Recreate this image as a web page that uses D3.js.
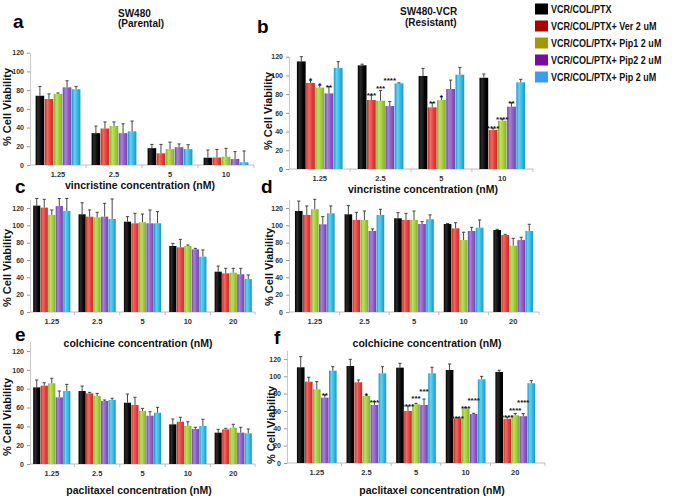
<!DOCTYPE html>
<html lang="en">
<head>
  <meta charset="UTF-8">
  <title>Cell viability panels</title>
  <script src="https://cdn.jsdelivr.net/npm/d3@7"></script>
  <style>
    html, body { margin: 0; padding: 0; background: #fff; }
    svg { display: block; font-family: Arial, 'Liberation Sans', sans-serif; }
  </style>
</head>
<body>
  <script>
    const series = [
      'VCR/COL/PTX',
      'VCR/COL/PTX+ Ver 2 uM',
      'VCR/COL/PTX+ Pip1 2 uM',
      'VCR/COL/PTX+ Pip2 2 uM',
      'VCR/COL/PTX+ Pip 2 uM'
    ];
    const vcrDoses = ['1.25', '2.5', '5', '10'];
    const colDoses = ['1.25', '2.5', '5', '10', '20'];
    const ptxDoses = ['1.25', '2.5', '5', '10', '20'];
    const yTicks = [0, 20, 40, 60, 80, 100, 120];

    // rows = series, columns = doses
    const aMean = [[74, 34, 18, 7.8], [70.5, 39, 12.5, 8], [76, 41.6, 17, 8.9], [83, 34, 19, 6.4], [81, 36, 17, 2.9]];
    const aSd = [[10, 7.6, 4, 8.2], [5.5, 7, 9.5, 8.5], [1, 4.4, 7.5, 8.9], [7, 10, 3.5, 7.9], [3, 11, 4.7, 12.1]];

    const bMean = [[115, 110.8, 99.4, 97.5], [92, 73.7, 65.9, 41.7], [87, 73, 73.7, 51.6], [80.8, 67.3, 85.5, 66.6], [108, 91.5, 100.8, 92.6]];
    const bSd = [[5, 1.2, 8.1, 4], [3, 5.3, 5, 1.8], [2.5, 11, 3.6, 1.8], [7.2, 4.7, 9.5, 4.3], [6.7, 0.5, 7.8, 3.2]];
    const bStars = [['', '', '', ''], ['*', '***', '**', '****'], ['*', '***', '*', '****'], ['**', '****', '', '**'], ['', '', '', '']];

    const cMean = [[122.7, 112.7, 104.2, 76.2, 46.5], [120.4, 110, 102.3, 74.6, 44.6], [112, 109.2, 103.5, 76.2, 45.4], [122.3, 110, 102.3, 72.3, 43.5], [116.5, 107.3, 102.3, 63.8, 38]];
    const cSd = [[8.3, 13.3, 5.8, 3, 6.5], [9.6, 7.7, 11.5, 9.2, 5.8], [5.7, 5.8, 9.5, 1.1, 5], [8.7, 15.4, 15.4, 1.1, 6.9], [14.5, 23.1, 13.5, 7.7, 4.7]];

    const dMean = [[116.5, 112.7, 108.1, 101.5, 94.6], [112, 106.2, 106.2, 96.5, 88.8], [118.5, 106.2, 106.2, 83, 76.5], [101.2, 93.5, 101.5, 93.5, 83], [113.8, 112, 107, 97.3, 93.5]];
    const dSd = [[11.5, 10, 6.5, 0.5, 0.8], [10.3, 8.8, 7.6, 6.5, 0.8], [11.5, 10.3, 10.3, 9, 8.5], [8.8, 2.3, 2.7, 4.2, 3.2], [8.5, 6.5, 5, 8.9, 7.7]];

    const eMean = [[81.4, 77.5, 65.1, 42.1, 33.3], [83.2, 75, 62.7, 44.9, 36.8], [85.7, 72.2, 56.3, 40.4, 38.6], [70.8, 66.9, 51.3, 37.2, 33.3], [77.5, 68, 54.5, 40.4, 32.6]];
    const eSd = [[7.8, 5.3, 9.2, 5.7, 3.5], [3.1, 1.1, 8.1, 4.7, 1.1], [5.3, 2.8, 2.8, 4.5, 3.6], [6.7, 1.1, 4.2, 1.8, 5.7], [7.1, 1.8, 5.7, 7.1, 4.6]];

    const fMean = [[110.4, 111.9, 110, 107.3, 105], [93.8, 93.1, 60, 51.5, 51], [85, 77.3, 67.7, 63, 55], [75.4, 66.9, 66.9, 56.5, 54], [106.5, 103.5, 103.5, 96.5, 92]];
    const fSd = [[12.3, 7.7, 5, 6.9, 2], [5.1, 2.7, 5.8, 0.8, 2], [8.8, 1.2, 1.1, 0.8, 2], [3.1, 3.9, 6.9, 0.8, 3], [4.6, 7.6, 6.9, 3.5, 3]];
    const fStars = [['', '', '', '', ''], ['', '', '****', '****', '****'], ['', '*', '***', '***', '****'], ['**', '***', '***', '****', '****'], ['', '', '', '', '']];

    // bar shading (edge, highlight, body) and legend swatches
    const barShades = [
      ['#000', '#2a2a2a', '#050505'],
      ['#c22a26', '#f26a60', '#e23d37'],
      ['#84ac2a', '#bde060', '#9ec93c'],
      ['#6e43a6', '#a882d8', '#8a5bc2'],
      ['#1c95c0', '#64d2f2', '#31b7df']
    ];
    const legendColors = ['#000', '#b00000', '#a09a00', '#7a0aa0', '#3d9cf2'];

    const panels = [
      {letter: 'a', lx: 13, ly: 28, doses: vcrDoses, mean: aMean, sd: aSd, xr: [30, 254], yr: [165, 52.7], top: 120, pi: 0.2, po: 0.1,
        xlabel: 'vincristine concentration (nM)', xlx: 140, xly: 189, ylx: 11, yly: 107},
      {letter: 'b', lx: 257, ly: 33, doses: vcrDoses, mean: bMean, sd: bSd, stars: bStars, xr: [289, 533], yr: [169, 56.7], top: 120, pi: 0.25, po: 0.13,
        xlabel: 'vincristine concentration (nM)', xlx: 423, xly: 193, ylx: 272, yly: 111},
      {letter: 'c', lx: 15, ly: 193, doses: colDoses, mean: cMean, sd: cSd, xr: [30, 255], yr: [312, 199.3], top: 130, pi: 0.18, po: 0.07,
        xlabel: 'colchicine concentration (nM)', xlx: 138, xly: 347, ylx: 11, yly: 268},
      {letter: 'd', lx: 261, ly: 193, doses: colDoses, mean: dMean, sd: dSd, xr: [289, 539], yr: [312, 199.3], top: 130, pi: 0.2, po: 0.12,
        xlabel: 'colchicine concentration (nM)', xlx: 427, xly: 347, ylx: 273, yly: 267},
      {letter: 'e', lx: 15, ly: 341, doses: ptxDoses, mean: eMean, sd: eSd, xr: [30, 255], yr: [464, 341.6], top: 130, pi: 0.18, po: 0.07,
        xlabel: 'paclitaxel concentration (nM)', xlx: 139, xly: 494, ylx: 11, yly: 417},
      {letter: 'f', lx: 274, ly: 344, doses: ptxDoses, mean: fMean, sd: fSd, stars: fStars, xr: [287, 545], yr: [463, 350.3], top: 130, pi: 0.2, po: 0.2,
        xlabel: 'paclitaxel concentration (nM)', xlx: 432, xly: 494, ylx: 275, yly: 425}
    ];

    const svg = d3.select('body').append('svg')
      .attr('width', 675)
      .attr('height', 498);

    const defs = svg.append('defs');
    barShades.forEach((s, i) => {
      const g = defs.append('linearGradient').attr('id', 'bar' + i)
        .attr('x1', 0).attr('x2', 1).attr('y1', 0).attr('y2', 0);
      g.append('stop').attr('offset', '0%').attr('stop-color', s[0]);
      g.append('stop').attr('offset', '30%').attr('stop-color', s[1]);
      g.append('stop').attr('offset', '70%').attr('stop-color', s[2]);
      g.append('stop').attr('offset', '100%').attr('stop-color', s[0]);
    });

    panels.forEach(p => {
      const g = svg.append('g');
      const x = d3.scaleBand().domain(p.doses).range(p.xr).paddingInner(p.pi).paddingOuter(p.po);
      const xs = d3.scaleBand().domain(d3.range(series.length)).range([0, x.bandwidth()]).paddingInner(0.05);
      const y = d3.scaleLinear().domain([0, p.top]).range(p.yr);

      // y axis
      const ya = g.append('g')
        .attr('transform', `translate(${p.xr[0]},0)`)
        .call(d3.axisLeft(y).tickValues(yTicks).tickSize(3).tickSizeOuter(0).tickPadding(3));
      ya.select('.domain').attr('stroke', '#c8c8c8');
      ya.selectAll('.tick line').attr('stroke', '#999');
      ya.selectAll('.tick text')
        .attr('font-size', 7).attr('font-weight', 'bold').attr('fill', '#333')
        .attr('font-family', 'Arial, Liberation Sans, sans-serif');

      // x axis: baseline with ticks between groups
      const y0 = y(0);
      g.append('line')
        .attr('x1', p.xr[0]).attr('x2', p.xr[1]).attr('y1', y0).attr('y2', y0)
        .attr('stroke', '#bdbdbd');
      const gap = x.step() * x.paddingInner() / 2;
      const sep = p.doses.slice(1).map(d => x(d) - gap).concat([p.xr[1]]);
      g.selectAll('.sep').data(sep).enter().append('line')
        .attr('x1', d => d).attr('x2', d => d).attr('y1', y0).attr('y2', y0 + 3)
        .attr('stroke', '#bdbdbd');
      g.selectAll('.xt').data(p.doses).enter().append('text')
        .attr('x', d => x(d) + x.bandwidth() / 2)
        .attr('y', y0 + 12)
        .attr('text-anchor', 'middle')
        .attr('font-size', 7.5).attr('font-weight', 'bold').attr('fill', '#333')
        .text(d => d);

      // bars
      const cells = [];
      p.mean.forEach((row, s) => row.forEach((v, k) => {
        cells.push({s, dose: p.doses[k], v, sd: p.sd[s][k], star: p.stars ? p.stars[s][k] : ''});
      }));
      const bw = xs.bandwidth();
      cells.forEach(c => { c.cx = x(c.dose) + xs(c.s) + bw / 2; });

      g.selectAll('.bar').data(cells).enter().append('rect')
        .attr('x', c => x(c.dose) + xs(c.s))
        .attr('y', c => y(c.v))
        .attr('width', bw)
        .attr('height', c => y0 - y(c.v))
        .attr('fill', c => `url(#bar${c.s})`);

      // error bars (upper only)
      const eb = g.selectAll('.err').data(cells).enter().append('g').attr('stroke', '#333').attr('stroke-width', 0.9);
      eb.append('line')
        .attr('x1', c => c.cx).attr('x2', c => c.cx)
        .attr('y1', c => y(c.v)).attr('y2', c => y(c.v + c.sd));
      eb.append('line')
        .attr('x1', c => c.cx - 1.6).attr('x2', c => c.cx + 1.6)
        .attr('y1', c => y(c.v + c.sd)).attr('y2', c => y(c.v + c.sd));

      // significance stars, stacked when they would collide
      p.doses.forEach(dose => {
        const placed = [];
        cells.filter(c => c.dose === dose && c.star).forEach(c => {
          const w = c.star.length * 3.1;
          let base = y(c.v + c.sd) - 1;
          placed.forEach(q => {
            if (Math.abs(q.x - c.cx) < (q.w + w) / 2 + 0.5 && base > q.base - 7) base = q.base - 7.5;
          });
          placed.push({x: c.cx, w, base});
          g.append('text')
            .attr('x', c.cx).attr('y', base + 4)
            .attr('text-anchor', 'middle')
            .attr('font-size', 8).attr('font-weight', 'bold').attr('fill', '#111')
            .text(c.star);
        });
      });

      // labels
      g.append('text')
        .attr('x', p.lx).attr('y', p.ly)
        .attr('font-size', 19).attr('font-weight', 'bold')
        .text(p.letter);
      g.append('text')
        .attr('x', p.xlx).attr('y', p.xly)
        .attr('text-anchor', 'middle')
        .attr('font-size', 10.5).attr('font-weight', 'bold').attr('fill', '#111')
        .text(p.xlabel);
      g.append('text')
        .attr('transform', `translate(${p.ylx},${p.yly}) rotate(-90)`)
        .attr('text-anchor', 'middle')
        .attr('font-size', 11).attr('font-weight', 'bold').attr('fill', '#111')
        .text('% Cell Viability');
    });

    // titles
    const titles = [
      {t: 'SW480', x: 118, y: 17}, {t: '(Parental)', x: 118, y: 27},
      {t: 'SW480-VCR', x: 400, y: 15}, {t: '(Resistant)', x: 405, y: 26}
    ];
    svg.selectAll('.title').data(titles).enter().append('text')
      .attr('x', d => d.x).attr('y', d => d.y)
      .attr('font-size', 10).attr('font-weight', 'bold').attr('fill', '#111')
      .text(d => d.t);

    // legend (text slightly condensed, as in the figure)
    const leg = svg.append('g').attr('transform', 'translate(535,0)');
    const li = leg.selectAll('g').data(series).enter().append('g')
      .attr('transform', (d, i) => `translate(0,${9 + i * 17})`);
    li.append('rect').attr('x', 0).attr('y', -5.5).attr('width', 13).attr('height', 11)
      .attr('fill', (d, i) => legendColors[i]);
    li.append('text')
      .attr('transform', 'translate(16,4) scale(0.82,1)')
      .attr('font-size', 11).attr('font-weight', 'bold').attr('fill', '#111')
      .text(d => d);
  </script>
</body>
</html>
